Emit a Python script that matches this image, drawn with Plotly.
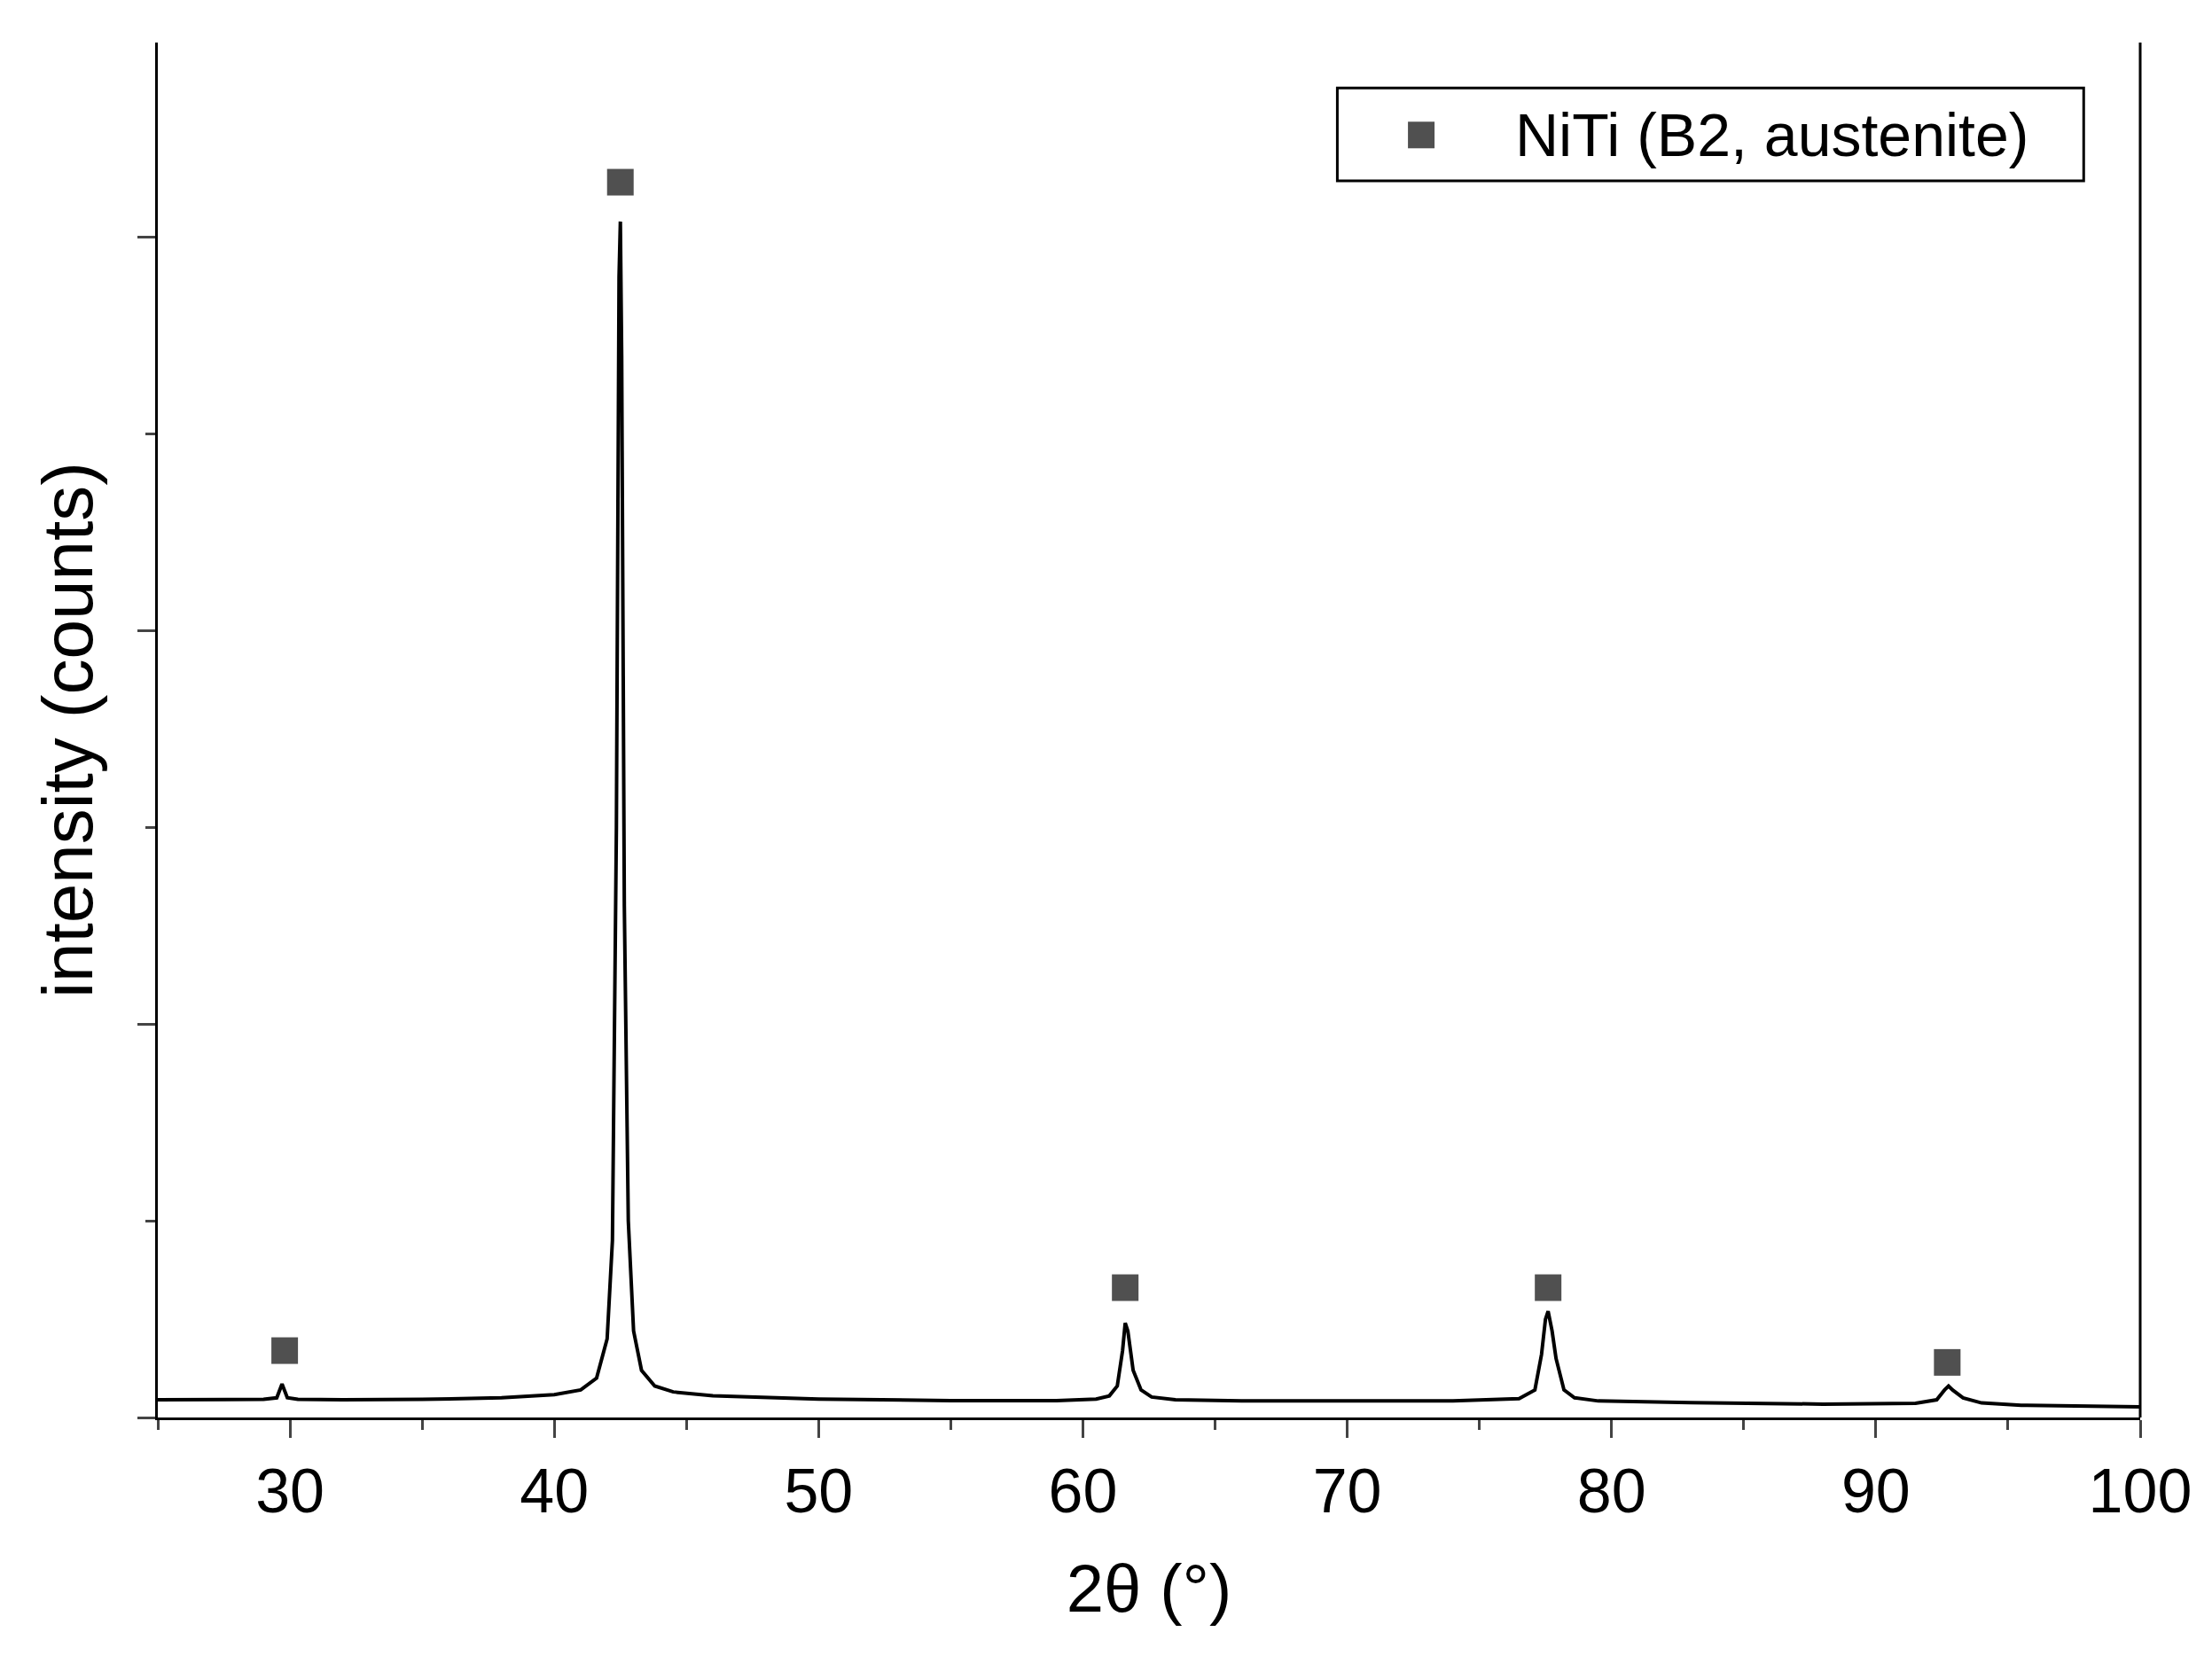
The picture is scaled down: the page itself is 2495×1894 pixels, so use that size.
import plotly.graph_objects as go

two_theta = [25.0, 27.0, 29.0, 29.5, 29.7, 29.9, 30.3, 32.0, 35.0, 38.0, 40.0, 41.0, 41.6, 42.0, 42.2, 42.35,
             42.45, 42.5, 42.55, 42.65, 42.8, 43.0, 43.3, 43.8, 44.5, 46.0, 50.0, 55.0, 59.0, 60.5, 61.0, 61.3,
             61.5, 61.6, 61.7, 61.9, 62.2, 62.6, 63.5, 66.0, 70.0, 74.0, 76.5, 77.1, 77.35, 77.5, 77.6, 77.75,
             77.9, 78.2, 78.6, 79.5, 83.0, 88.0, 91.5, 92.3, 92.6, 92.75, 92.9, 93.3, 94.0, 95.5, 100.0]
intensity = [0.045, 0.045, 0.046, 0.05, 0.085, 0.05, 0.046, 0.045, 0.046, 0.05, 0.058, 0.07, 0.1, 0.2, 0.45,
             1.5, 2.9, 3.04, 2.7, 1.3, 0.5, 0.22, 0.12, 0.08, 0.065, 0.055, 0.047, 0.043, 0.043, 0.047,
             0.055, 0.08, 0.17, 0.24, 0.22, 0.12, 0.07, 0.052, 0.045, 0.042, 0.041, 0.042, 0.048, 0.07, 0.16,
             0.25, 0.27, 0.22, 0.15, 0.07, 0.05, 0.042, 0.038, 0.034, 0.036, 0.045, 0.07, 0.08, 0.07, 0.05,
             0.037, 0.031, 0.027]

peak_x = [29.8, 42.5, 61.6, 77.6, 92.7]
peak_y = [0.17, 3.14, 0.33, 0.33, 0.14]
legend_label = "NiTi (B2, austenite)"
legend_marker_x = [72.8]
legend_marker_y = [3.26]

fig = go.Figure()
fig.add_trace(go.Scatter(x=two_theta, y=intensity, mode="lines", line=dict(color="black", width=4),
                         showlegend=False))
fig.add_trace(go.Scatter(x=peak_x, y=peak_y, mode="markers", name=legend_label, showlegend=False,
                         marker=dict(symbol="square", size=30, color="#505050")))
fig.add_trace(go.Scatter(x=legend_marker_x, y=legend_marker_y, mode="markers", showlegend=False,
                         hoverinfo="skip", marker=dict(symbol="square", size=30, color="#505050")))

font = "Liberation Sans, Arial, sans-serif"
fig.update_layout(
    width=2495, height=1894, plot_bgcolor="white", paper_bgcolor="white",
    margin=dict(l=170, r=89, t=40, b=303),
    font=dict(family=font, color="black"),
    showlegend=False,
    xaxis=dict(range=[25, 100], tickvals=[30, 40, 50, 60, 70, 80, 90, 100], ticks="outside",
               ticklen=20, tickwidth=3, showline=True, linecolor="black", linewidth=3, showgrid=False,
               zeroline=False, tickfont=dict(size=70),
               minor=dict(tickvals=[25, 35, 45, 55, 65, 75, 85, 95], ticks="outside", ticklen=11, tickwidth=3),
               title=dict(text="2θ (°)", font=dict(size=76), standoff=45)),
    yaxis=dict(range=[0, 3.495], tickvals=[0, 1, 2, 3], ticks="outside", ticklen=20, tickwidth=3,
               showticklabels=False, showline=True, linecolor="black", linewidth=3, showgrid=False,
               zeroline=False,
               minor=dict(tickvals=[0.5, 1.5, 2.5], ticks="outside", ticklen=11, tickwidth=3),
               title=dict(text="intensity (counts)", font=dict(size=80), standoff=25)),
    shapes=[dict(type="line", xref="paper", yref="paper", x0=1, x1=1, y0=0, y1=1,
                 line=dict(color="black", width=3)),
            dict(type="rect", xref="paper", yref="paper", x0=0.595, x1=0.9715, y0=0.8995, y1=0.967,
                 line=dict(color="black", width=3), layer="below")],
    annotations=[dict(text=legend_label, xref="paper", yref="paper", x=0.684, y=0.933,
                      xanchor="left", yanchor="middle", showarrow=False, font=dict(size=68))],
)
fig.write_html("out.html")
